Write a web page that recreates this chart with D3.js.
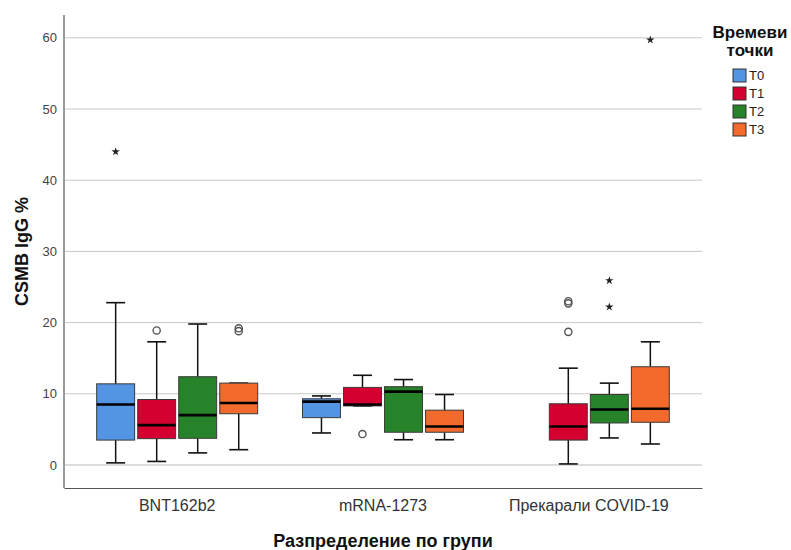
<!DOCTYPE html>
<html><head><meta charset="utf-8">
<script src="https://cdn.jsdelivr.net/npm/d3@7/dist/d3.min.js"></script>
<style>body{margin:0;background:#fff}svg{display:block;font-family:"Liberation Sans",Arial,sans-serif}</style>
</head><body>
<script>
const groups = ["BNT162b2", "mRNA-1273", "Прекарали COVID-19"];
const seriesNames = ["T0", "T1", "T2", "T3"];
const seriesColors = ["#5394e3", "#d40030", "#27832a", "#f26a2c"];
// [lower whisker, Q1, median, Q3, upper whisker] per group
const t0Stats = [[0.3, 3.5, 8.5, 11.4, 22.8], [4.5, 6.65, 8.9, 9.3, 9.7], null];
const t1Stats = [[0.5, 3.7, 5.6, 9.2, 17.3], [8.3, 8.3, 8.5, 10.9, 12.6], [0.15, 3.5, 5.4, 8.6, 13.6]];
const t2Stats = [[1.7, 3.75, 7.0, 12.4, 19.8], [3.55, 4.6, 10.3, 11.0, 12.0], [3.8, 5.9, 7.8, 9.9, 11.5]];
const t3Stats = [[2.15, 7.2, 8.7, 11.5, 11.5], [3.55, 4.6, 5.4, 7.7, 9.9], [2.95, 6.0, 7.9, 13.8, 17.3]];
const outlierGroups = ["BNT162b2", "BNT162b2", "BNT162b2", "mRNA-1273", "Прекарали COVID-19", "Прекарали COVID-19", "Прекарали COVID-19"];
const outlierSeries = ["T1", "T3", "T3", "T1", "T1", "T1", "T1"];
const outlierValues = [18.9, 19.2, 18.8, 4.35, 23.0, 22.7, 18.7];
const extremeGroups = ["BNT162b2", "Прекарали COVID-19", "Прекарали COVID-19", "Прекарали COVID-19"];
const extremeSeries = ["T0", "T2", "T2", "T3"];
const extremeValues = [44.0, 25.9, 22.2, 59.7];
const yTicks = [0, 10, 20, 30, 40, 50, 60];
const yTitle = "CSMB IgG %";
const xTitle = "Разпределение по групи";
const legendTitle = ["Времеви", "точки"];

const W = 791, H = 550;
const m = {left: 64, right: 702, top: 15, bottom: 488};
const svg = d3.select("body").append("svg").attr("width", W).attr("height", H);

const y = d3.scaleLinear().domain([-3.23, 63.2]).range([m.bottom, m.top]);
const x = d3.scaleBand().domain(groups).range([m.left, m.right]).paddingInner(0).paddingOuter(0.05);
const groupInner = 161;
const xs = d3.scaleBand().domain(seriesNames).range([0, groupInner]).paddingInner(0.075).paddingOuter(0);
const color = d3.scaleOrdinal().domain(seriesNames).range(seriesColors);
const cx = (g, s) => x(g) + (x.bandwidth() - groupInner) / 2 + xs(s) + xs.bandwidth() / 2;

// gridlines
svg.append("g").selectAll("line").data(yTicks).join("line")
  .attr("x1", m.left).attr("x2", m.right)
  .attr("y1", d => y(d)).attr("y2", d => y(d))
  .attr("stroke", d => d === 0 ? "#dcdcdc" : "#c8c8c8")
  .attr("stroke-width", d => d === 0 ? 2 : 1);

// y axis
const yAxis = svg.append("g").attr("transform", `translate(${m.left},0)`)
  .call(d3.axisLeft(y).tickValues(yTicks).tickSize(0).tickPadding(7));
yAxis.select(".domain").remove();
yAxis.selectAll("text").attr("font-size", 13).attr("fill", "#444").attr("font-family", "Liberation Sans, Arial, sans-serif");
svg.append("line").attr("x1", m.left).attr("x2", m.left).attr("y1", m.top).attr("y2", m.bottom)
  .attr("stroke", "#9a9a9a").attr("stroke-width", 2);

// x axis
const xAxis = svg.append("g").attr("transform", `translate(0,${m.bottom})`)
  .call(d3.axisBottom(x).tickSize(0).tickPadding(12));
xAxis.select(".domain").attr("stroke", "#555").attr("stroke-width", 1.2);
xAxis.selectAll("text").attr("font-size", 16).attr("fill", "#333").attr("font-family", "Liberation Sans, Arial, sans-serif");

// boxes
const allStats = [t0Stats, t1Stats, t2Stats, t3Stats];
const boxes = [];
seriesNames.forEach((s, si) => groups.forEach((g, gi) => {
  const st = allStats[si][gi];
  if (st) boxes.push({g, s, lo: st[0], q1: st[1], med: st[2], q3: st[3], hi: st[4]});
}));
const bw = xs.bandwidth();
const bg = svg.append("g").selectAll("g").data(boxes).join("g");
bg.append("line").attr("x1", d => cx(d.g, d.s)).attr("x2", d => cx(d.g, d.s))
  .attr("y1", d => y(d.hi)).attr("y2", d => y(d.q3)).attr("stroke", "#111").attr("stroke-width", 1.5);
bg.append("line").attr("x1", d => cx(d.g, d.s)).attr("x2", d => cx(d.g, d.s))
  .attr("y1", d => y(d.q1)).attr("y2", d => y(d.lo)).attr("stroke", "#111").attr("stroke-width", 1.5);
bg.append("line").attr("x1", d => cx(d.g, d.s) - bw / 4).attr("x2", d => cx(d.g, d.s) + bw / 4)
  .attr("y1", d => y(d.hi)).attr("y2", d => y(d.hi)).attr("stroke", "#111").attr("stroke-width", 1.6);
bg.append("line").attr("x1", d => cx(d.g, d.s) - bw / 4).attr("x2", d => cx(d.g, d.s) + bw / 4)
  .attr("y1", d => y(d.lo)).attr("y2", d => y(d.lo)).attr("stroke", "#111").attr("stroke-width", 1.6);
bg.append("rect").attr("x", d => cx(d.g, d.s) - bw / 2).attr("width", bw)
  .attr("y", d => y(d.q3)).attr("height", d => y(d.q1) - y(d.q3))
  .attr("fill", d => color(d.s)).attr("stroke", "#3a3a3a").attr("stroke-width", 1);
bg.append("line").attr("x1", d => cx(d.g, d.s) - bw / 2).attr("x2", d => cx(d.g, d.s) + bw / 2)
  .attr("y1", d => y(d.med)).attr("y2", d => y(d.med)).attr("stroke", "#000").attr("stroke-width", 2.6);

// outliers (circles)
svg.append("g").selectAll("circle").data(outlierValues.map((v, i) => ({v, g: outlierGroups[i], s: outlierSeries[i]})))
  .join("circle").attr("cx", d => cx(d.g, d.s)).attr("cy", d => y(d.v)).attr("r", 3.6)
  .attr("fill", "none").attr("stroke", "#555").attr("stroke-width", 1.4);

// extremes (stars)
svg.append("g").selectAll("path").data(extremeValues.map((v, i) => ({v, g: extremeGroups[i], s: extremeSeries[i]})))
  .join("path").attr("d", d3.symbol().type(d3.symbolStar).size(22))
  .attr("transform", d => `translate(${cx(d.g, d.s)},${y(d.v)})`).attr("fill", "#222");

// axis titles
svg.append("text").attr("transform", `translate(28,${(m.top + m.bottom) / 2}) rotate(-90)`)
  .attr("text-anchor", "middle").attr("font-size", 18).attr("font-weight", "bold").attr("fill", "#111").text(yTitle);
svg.append("text").attr("x", (m.left + m.right) / 2).attr("y", 547)
  .attr("text-anchor", "middle").attr("font-size", 18).attr("font-weight", "bold").attr("fill", "#111").text(xTitle);

// legend
const lg = svg.append("g");
lg.selectAll("text.t").data(legendTitle).join("text").attr("class", "t")
  .attr("x", 750).attr("y", (d, i) => 38 + i * 18).attr("text-anchor", "middle")
  .attr("font-size", 17).attr("font-weight", "bold").attr("fill", "#111").text(d => d);
const li = lg.selectAll("g.i").data(seriesNames).join("g").attr("class", "i")
  .attr("transform", (d, i) => `translate(733,${69 + i * 18})`);
li.append("rect").attr("width", 13).attr("height", 13).attr("fill", d => color(d)).attr("stroke", "#333").attr("stroke-width", 1);
li.append("text").attr("x", 16).attr("y", 11).attr("font-size", 13).attr("fill", "#222").text(d => d);
</script>
</body></html>
